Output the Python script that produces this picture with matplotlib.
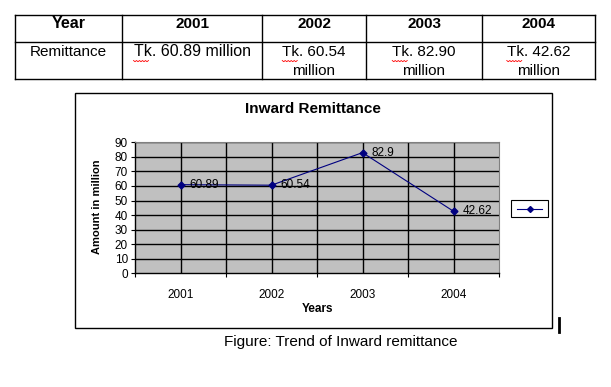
import numpy as np
import matplotlib
matplotlib.use('Agg')
import matplotlib.pyplot as plt
from matplotlib.patches import Rectangle

plt.rcParams['font.family'] = ['Liberation Sans', 'DejaVu Sans']

# data
years = ['2001', '2002', '2003', '2004']
remittance = [60.89, 60.54, 82.90, 42.62]
table_header = 'Year'
table_row = 'Remittance'
wrap_cell = [False, True, True, True]
y_ticks = list(range(0, 91, 10))

W, H = 611, 387
fig = plt.figure(figsize=(W / 100, H / 100), dpi=100)

# background axes in pixel coords (y down)
bg = fig.add_axes([0, 0, 1, 1])
bg.set_xlim(0, W)
bg.set_ylim(H, 0)
bg.axis('off')

# ---- table ----
col_x = [14.5, 122, 262, 366, 482, 595]
row_y = [14.7, 41.7, 79]
for x in col_x:
    bg.plot([x, x], [row_y[0], row_y[-1]], color='black', lw=1)
for y in row_y:
    bg.plot([col_x[0], col_x[-1]], [y, y], color='black', lw=1)

centers = [(col_x[i] + col_x[i + 1]) / 2 for i in range(5)]
bg.text(centers[0], 23.5, table_header, ha='center', va='center',
        fontsize=11.5, fontweight='bold')
bg.text(centers[0], 52, table_row, ha='center', va='center', fontsize=11)
tk_texts = []
for i, (yr, v) in enumerate(zip(years, remittance)):
    cx = centers[i + 1]
    bg.text(cx, 23.5, yr, ha='center', va='center', fontsize=11, fontweight='bold')
    if wrap_cell[i]:
        t = bg.text(cx, 52, f'Tk. {v:.2f}', ha='center', va='center', fontsize=11)
        bg.text(cx, 71, 'million', ha='center', va='center', fontsize=11)
    else:
        t = bg.text(cx, 52, f'Tk. {v:.2f} million', ha='center', va='center', fontsize=11.5)
    tk_texts.append(t)

# ---- chart frame ----
bg.add_patch(Rectangle((75, 93), 552 - 75, 328 - 93, fill=False, ec='black', lw=1))
bg.text(313, 109, 'Inward Remittance', ha='center', va='center',
        fontsize=11, fontweight='bold')
bg.text(318, 309.5, 'Years', ha='center', va='center', fontsize=8.5, fontweight='bold')
bg.text(97, 207, 'Amount in million', ha='center', va='center', rotation=90,
        fontsize=8, fontweight='bold')

# legend box
bg.add_patch(Rectangle((511, 200), 37, 17, fill=True, fc='white', ec='black', lw=0.8))
bg.plot([517, 542], [208.5, 208.5], color='#000080', lw=0.8)
bg.plot([529.5], [208.5], color='#000080', marker='D', markersize=3)

# cursor mark
bg.plot([559, 559], [318, 332], color='black', lw=2)

# caption
bg.text(341, 342, 'Figure: Trend of Inward remittance', ha='center', va='center',
        fontsize=11)

# ---- plot axes ----
left, right, top, bottom = 135, 499, 142.3, 273.3
ax = fig.add_axes([left / W, 1 - bottom / H, (right - left) / W, (bottom - top) / H])
ax.set_facecolor('#c0c0c0')
xs = np.arange(len(years)) + 0.5
ax.set_xlim(0, len(years))
ax.set_ylim(0, 90)
for y in y_ticks[1:]:
    ax.axhline(y, color='black', lw=1, zorder=1)
for x in np.arange(0.5, len(years), 0.5):
    ax.axvline(x, color='black', lw=1, zorder=1)
ax.plot(xs, remittance, color='#000080', lw=0.8, marker='D', markersize=3.5, zorder=3)
for x, v in zip(xs, remittance):
    ax.annotate(f'{v:g}', (x, v), xytext=(6.5, 0), textcoords='offset points',
                ha='left', va='center', fontsize=8.5, zorder=4)

ax.set_yticks(y_ticks)
ax.set_yticklabels([str(v) for v in y_ticks], fontsize=8.5)
ax.set_xticks(np.arange(0, len(years) + 1))
ax.set_xticklabels([])
ax.set_xticks(xs, minor=True)
ax.set_xticklabels(years, minor=True, fontsize=8.5)
ax.tick_params(axis='x', which='minor', length=0, pad=11)
ax.tick_params(axis='both', which='major', length=3, width=0.8, direction='out', pad=2)
for s in ['top', 'right']:
    ax.spines[s].set_color('#808080')
    ax.spines[s].set_linewidth(0.8)
for s in ['left', 'bottom']:
    ax.spines[s].set_color('black')
    ax.spines[s].set_linewidth(1)

# red wavy underline under "Tk"
fig.canvas.draw()
inv = bg.transData.inverted()
for t in tk_texts:
    bb = t.get_window_extent()
    x0 = inv.transform((bb.x0, bb.y0))[0]
    zx = np.linspace(x0, x0 + 15, 11)
    zy = 60.5 + np.array([0, 1] * 6)[:11] * 1.2
    bg.plot(zx, zy, color='red', lw=0.6)

fig.savefig('out.png', dpi=100)
